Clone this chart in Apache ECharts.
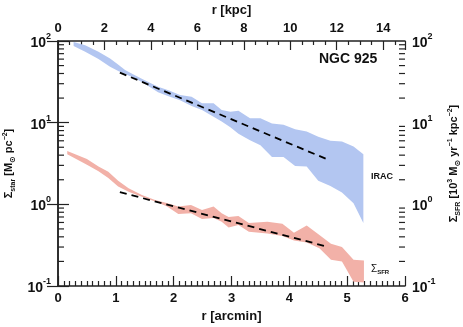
<!DOCTYPE html>
<html>
<head>
<meta charset="utf-8">
<script src="https://cdn.jsdelivr.net/npm/echarts@6/dist/echarts.min.js"></script>
<style>
    html, body { margin: 0; padding: 0; background: #fff; }
    #chart { width: 463px; height: 327px; }
</style>
</head>
<body>
<div id="chart"></div>
<script>
    //arcmin -> kpc for the top axis
    var KPC_PER_ARCMIN = 2.49;

    //IRAC stellar surface density band (r in arcmin)
    var iracR  = [0.27, 0.47, 0.70, 0.90, 1.05, 1.16, 1.33, 1.50, 1.73, 1.91, 2.11, 2.31, 2.49, 2.69, 2.83, 2.98, 3.12, 3.32, 3.50, 3.70, 3.90, 4.10, 4.30, 4.50, 4.71, 4.91, 5.11, 5.28];
    var iracHi = [97, 89, 74, 61, 51, 44, 38, 33, 27.6, 25, 21.8, 20.8, 17.3, 17.3, 14.3, 13.6, 14.0, 11.3, 11.3, 9.8, 9.4, 8.3, 7.8, 6.7, 6.0, 5.9, 5.1, 4.1];
    var iracLo = [87, 74, 60, 48.5, 42.5, 39.5, 35, 30, 23.5, 21, 18.8, 16, 14.3, 11.8, 10.3, 8.8, 7.3, 6.1, 5.3, 3.8, 3.8, 2.95, 2.9, 1.95, 1.68, 1.40, 1.03, 0.59];

    //SFR surface density band
    var sfrR  = [0.16, 0.50, 0.70, 0.87, 1.04, 1.22, 1.45, 1.68, 1.88, 2.08, 2.30, 2.49, 2.69, 2.83, 2.95, 3.12, 3.30, 3.62, 3.88, 4.08, 4.30, 4.52, 4.72, 4.91, 5.11, 5.29];
    var sfrHi = [4.5, 3.6, 2.9, 2.5, 1.95, 1.57, 1.30, 1.13, 1.04, 0.94, 0.98, 0.85, 0.94, 0.78, 0.70, 0.72, 0.59, 0.61, 0.58, 0.45, 0.55, 0.42, 0.33, 0.30, 0.21, 0.205];
    var sfrLo = [4.1, 3.05, 2.55, 2.1, 1.65, 1.43, 1.24, 1.08, 0.95, 0.76, 0.78, 0.66, 0.68, 0.61, 0.52, 0.56, 0.46, 0.44, 0.41, 0.36, 0.34, 0.29, 0.21, 0.20, 0.113, 0.11];

    //exponential fits (dashed)
    var iracFit = [[1.07, 41], [4.68, 3.5]];
    var sfrFit  = [[1.07, 1.41], [4.68, 0.30]];

    //log minor ticks
    var minorVals = [0.2, 0.3, 0.4, 0.5, 0.6, 0.7, 0.8, 0.9, 2, 3, 4, 5, 6, 7, 8, 9, 20, 30, 40, 50, 60, 70, 80, 90];

    var FONT = 'Liberation Sans, Arial, sans-serif';
    var AXIS_COLOR = '#222';

    function powLabel(v) {
        var e = Math.round(Math.log(v) / Math.LN10);
        return '{b|10}{e|' + (e < 0 ? '-' + (-e) : e) + '}';
    }

    var powRich = {
        b: { fontSize: 14, fontWeight: 'bold', fontFamily: FONT, color: '#111', lineHeight: 18, verticalAlign: 'bottom' },
        e: { fontSize: 9, fontWeight: 'bold', fontFamily: FONT, color: '#111', verticalAlign: 'top' }
    };

    //filled band between lo and hi
    function bandRenderer(xs, lo, hi, color) {
        return function (params, api) {
            var pts = [];
            for (var i = 0; i < xs.length; i++) {
                pts.push(api.coord([xs[i], hi[i]]));
            }
            for (var j = xs.length - 1; j >= 0; j--) {
                pts.push(api.coord([xs[j], lo[j]]));
            }
            return { type: 'polygon', shape: { points: pts }, style: { fill: color } };
        };
    }

    //minor ticks on both log axes
    function renderMinorTick(params, api) {
        var v = api.value(1);
        var l = api.coord([0, v]);
        var r = api.coord([6, v]);
        var st = { stroke: AXIS_COLOR, lineWidth: 1.2 };
        return {
            type: 'group',
            children: [
                { type: 'line', shape: { x1: l[0], y1: l[1], x2: l[0] + 6, y2: l[1] }, style: st },
                { type: 'line', shape: { x1: r[0], y1: r[1], x2: r[0] - 6, y2: r[1] }, style: st }
            ]
        };
    }

    function yAxisCfg(pos, name) {
        return {
            type: 'log',
            logBase: 10,
            min: 0.1,
            max: 100,
            position: pos,
            name: name,
            nameLocation: 'middle',
            nameRotate: 90,
            nameGap: pos == 'left' ? 26 : 27,
            nameTextStyle: {
                fontFamily: FONT,
                fontWeight: 'bold',
                color: '#111',
                rich: {
                    m: { fontSize: 11, fontWeight: 'bold', fontFamily: FONT, color: '#111', lineHeight: 15, verticalAlign: 'middle' },
                    sub: { fontSize: 7, fontWeight: 'bold', fontFamily: FONT, color: '#111', verticalAlign: 'bottom' },
                    sup: { fontSize: 7, fontWeight: 'bold', fontFamily: FONT, color: '#111', verticalAlign: 'top' },
                    sym: { fontSize: 8, fontFamily: 'DejaVu Sans', color: '#111', verticalAlign: 'bottom' }
                }
            },
            axisLine: { show: true, lineStyle: { color: AXIS_COLOR, width: 1.5 } },
            axisTick: { show: true, inside: true, length: 11, lineStyle: { color: AXIS_COLOR, width: 1.2 } },
            axisLabel: { margin: 7, formatter: powLabel, rich: powRich },
            splitLine: { show: false }
        };
    }

    var chart = echarts.init(document.getElementById('chart'), null, { renderer: 'canvas' });

    var option = {
        animation: false,
        backgroundColor: '#fff',
        grid: { left: 58, right: 58, top: 41, bottom: 41, outerBoundsMode: 'none', containLabel: false },
        xAxis: [
            {
                type: 'value',
                min: 0,
                max: 6,
                interval: 1,
                position: 'bottom',
                name: 'r [arcmin]',
                nameLocation: 'middle',
                nameGap: 17,
                nameTextStyle: { fontFamily: FONT, fontWeight: 'bold', fontSize: 13, color: '#111' },
                axisLine: { show: true, lineStyle: { color: AXIS_COLOR, width: 1.5 } },
                axisTick: { inside: true, length: 10, lineStyle: { color: AXIS_COLOR, width: 1.2 } },
                minorTick: { show: true, splitNumber: 10, length: 5, lineStyle: { color: AXIS_COLOR, width: 1.2 } },
                axisLabel: { margin: 6, fontFamily: FONT, fontWeight: 'bold', fontSize: 13, color: '#111' },
                splitLine: { show: false }
            },
            {
                type: 'value',
                min: 0,
                max: 6 * KPC_PER_ARCMIN,
                interval: 2,
                position: 'top',
                name: 'r [kpc]',
                nameLocation: 'middle',
                nameGap: 17,
                nameTextStyle: { fontFamily: FONT, fontWeight: 'bold', fontSize: 13, color: '#111' },
                axisLine: { show: true, lineStyle: { color: AXIS_COLOR, width: 1.5 } },
                axisTick: { inside: true, length: 9, lineStyle: { color: AXIS_COLOR, width: 1.2 } },
                minorTick: { show: true, splitNumber: 4, length: 4, lineStyle: { color: AXIS_COLOR, width: 1.2 } },
                axisLabel: { margin: 6, showMaxLabel: false, fontFamily: FONT, fontWeight: 'bold', fontSize: 13, color: '#111' },
                splitLine: { show: false }
            }
        ],
        yAxis: [
            yAxisCfg('left', '{m|Σ}{sub|star}{m| [M}{sym|⊙}{m| pc}{sup|−2}{m|]}'),
            yAxisCfg('right', '{m|Σ}{sub|SFR}{m| [10}{sup|3}{m| M}{sym|⊙}{m| yr}{sup|−1}{m| kpc}{sup|−2}{m|]}')
        ],
        graphic: [
            {
                type: 'text', left: 319, top: 52,
                style: { text: 'NGC 925', fontFamily: FONT, fontWeight: 'bold', fontSize: 14, fill: '#111' }
            },
            {
                type: 'text', left: 371, top: 172,
                style: { text: 'IRAC', fontFamily: FONT, fontWeight: 'bold', fontSize: 9, fill: '#111' }
            },
            {
                type: 'text', left: 371, top: 264,
                style: {
                    text: '{m|Σ}{s|SFR}',
                    rich: {
                        m: { fontSize: 10, fontFamily: FONT, fill: '#111', lineHeight: 12, verticalAlign: 'middle' },
                        s: { fontSize: 6, fontWeight: 'bold', fontFamily: FONT, fill: '#111', verticalAlign: 'bottom' }
                    }
                }
            }
        ],
        series: [
            {
                type: 'custom',
                name: 'IRAC',
                xAxisIndex: 0,
                yAxisIndex: 0,
                silent: true,
                z: 1,
                data: [[iracR[0], iracHi[0]]],
                renderItem: bandRenderer(iracR, iracLo, iracHi, '#b3c6f1')
            },
            {
                type: 'custom',
                name: 'SFR',
                xAxisIndex: 0,
                yAxisIndex: 0,
                silent: true,
                z: 1,
                data: [[sfrR[0], sfrHi[0]]],
                renderItem: bandRenderer(sfrR, sfrLo, sfrHi, '#f2b1a8')
            },
            {
                type: 'line',
                xAxisIndex: 0,
                yAxisIndex: 0,
                data: iracFit,
                symbol: 'none',
                z: 3,
                lineStyle: { color: '#000', width: 1.8, type: [7, 5] }
            },
            {
                type: 'line',
                xAxisIndex: 0,
                yAxisIndex: 0,
                data: sfrFit,
                symbol: 'none',
                z: 3,
                lineStyle: { color: '#000', width: 1.8, type: [7, 5] }
            },
            {
                type: 'custom',
                xAxisIndex: 0,
                yAxisIndex: 0,
                silent: true,
                z: 4,
                data: minorVals.map(function (v) { return [0, v]; }),
                renderItem: renderMinorTick
            }
        ]
    };

    chart.setOption(option);
</script>
</body>
</html>
